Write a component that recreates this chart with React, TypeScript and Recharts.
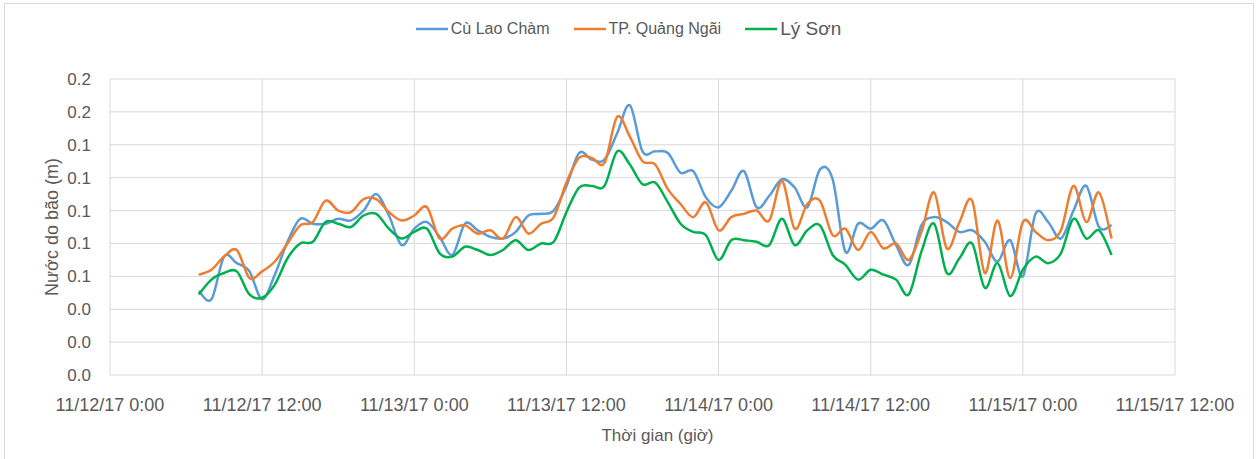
import React from 'react';
import { LineChart, Line, XAxis, YAxis, CartesianGrid, Legend } from 'recharts';

// hours since 11/12/17 0:00
const hours = [
  7, 8, 9, 10, 11, 12, 13, 14, 15, 16, 17, 18, 19, 20, 21, 22, 23, 24, 25, 26,
  27, 28, 29, 30, 31, 32, 33, 34, 35, 36, 37, 38, 39, 40, 41, 42, 43, 44, 45, 46,
  47, 48, 49, 50, 51, 52, 53, 54, 55, 56, 57, 58, 59, 60, 61, 62, 63, 64, 65, 66,
  67, 68, 69, 70, 71, 72, 73, 74, 75, 76, 77, 78, 79,
];

const cuLaoCham = [
  0.051, 0.046, 0.072, 0.068, 0.063, 0.046, 0.061, 0.081, 0.095, 0.092, 0.092, 0.095, 0.094, 0.1, 0.11, 0.097, 0.079, 0.089, 0.093, 0.084,
  0.073, 0.092, 0.088, 0.084, 0.083, 0.087, 0.097, 0.098, 0.1, 0.115, 0.135, 0.131, 0.131, 0.147, 0.164, 0.136, 0.136, 0.135, 0.123, 0.124,
  0.108, 0.102, 0.112, 0.124, 0.102, 0.109, 0.119, 0.114, 0.102, 0.125, 0.119, 0.075, 0.092, 0.089, 0.094, 0.079, 0.067, 0.091, 0.096, 0.093,
  0.087, 0.088, 0.081, 0.069, 0.082, 0.06, 0.098, 0.093, 0.083, 0.1, 0.115, 0.09, 0.091,
];

const quangNgai = [
  0.061, 0.064, 0.072, 0.076, 0.059, 0.063, 0.069, 0.08, 0.091, 0.093, 0.106, 0.1, 0.099, 0.107, 0.107, 0.099, 0.094, 0.097, 0.102, 0.083,
  0.089, 0.091, 0.086, 0.088, 0.083, 0.096, 0.086, 0.092, 0.096, 0.117, 0.132, 0.132, 0.129, 0.157, 0.145, 0.13, 0.128, 0.113, 0.104, 0.096,
  0.105, 0.088, 0.096, 0.098, 0.1, 0.094, 0.118, 0.089, 0.104, 0.106, 0.085, 0.089, 0.076, 0.087, 0.077, 0.08, 0.07, 0.087, 0.111, 0.077,
  0.093, 0.106, 0.062, 0.094, 0.059, 0.093, 0.087, 0.082, 0.088, 0.115, 0.093, 0.111, 0.083,
];

const lySon = [
  0.049, 0.058, 0.062, 0.063, 0.049, 0.047, 0.055, 0.071, 0.08, 0.081, 0.093, 0.092, 0.09, 0.097, 0.098, 0.089, 0.083, 0.087, 0.089, 0.074,
  0.072, 0.078, 0.076, 0.073, 0.076, 0.082, 0.076, 0.08, 0.081, 0.099, 0.114, 0.115, 0.115, 0.136, 0.128, 0.116, 0.117, 0.105, 0.092, 0.087,
  0.085, 0.07, 0.082, 0.082, 0.081, 0.079, 0.095, 0.079, 0.088, 0.091, 0.073, 0.067, 0.058, 0.064, 0.061, 0.058, 0.049, 0.075, 0.092, 0.062,
  0.071, 0.08, 0.053, 0.068, 0.048, 0.064, 0.072, 0.068, 0.074, 0.095, 0.083, 0.088, 0.073,
];

const xTicks = [0, 12, 24, 36, 48, 60, 72, 84];
const xTickLabels = [
  '11/12/17 0:00', '11/12/17 12:00', '11/13/17 0:00', '11/13/17 12:00',
  '11/14/17 0:00', '11/14/17 12:00', '11/15/17 0:00', '11/15/17 12:00',
];
const yTicks = [0, 0.02, 0.04, 0.06, 0.08, 0.1, 0.12, 0.14, 0.16, 0.18];

const series = [
  { key: 'cuLaoCham', name: 'Cù Lao Chàm', color: '#5B9BD5', legendSize: 16 },
  { key: 'quangNgai', name: 'TP. Quảng Ngãi', color: '#ED7D31', legendSize: 16 },
  { key: 'lySon', name: 'Lý Sơn', color: '#00B050', legendSize: 19 },
];

const data = hours.map((h, i) => ({
  h,
  cuLaoCham: cuLaoCham[i],
  quangNgai: quangNgai[i],
  lySon: lySon[i],
}));

const FONT = '"Liberation Sans", Arial, sans-serif';
const TEXT = '#595959';

// Excel-like smoothed line (cardinal spline, tension 0)
const excelSmooth = (context: any) => {
  let pts: number[][] = [];
  return {
    areaStart() {},
    areaEnd() {},
    lineStart() {
      pts = [];
    },
    point(x: number, y: number) {
      pts.push([+x, +y]);
    },
    lineEnd() {
      const n = pts.length;
      if (!n) return;
      context.moveTo(pts[0][0], pts[0][1]);
      for (let i = 0; i < n - 1; i++) {
        const p0 = pts[i - 1] || pts[i];
        const p1 = pts[i];
        const p2 = pts[i + 1];
        const p3 = pts[i + 2] || p2;
        context.bezierCurveTo(
          p1[0] + (p2[0] - p0[0]) / 6,
          p1[1] + (p2[1] - p0[1]) / 6,
          p2[0] - (p3[0] - p1[0]) / 6,
          p2[1] - (p3[1] - p1[1]) / 6,
          p2[0],
          p2[1]
        );
      }
    },
  };
};

// keep the series order (recharts sorts the payload by name)
const renderLegend = (props: any) => {
  const { payload = [] } = props;
  const items = series
    .map(s => ({ s, p: payload.find((p: any) => p.value === s.name) }))
    .filter(x => x.p);
  return (
    <div style={{ height: 79, paddingTop: 18, boxSizing: 'border-box', display: 'flex', justifyContent: 'center', gap: 24, fontFamily: FONT, color: TEXT }}>
      {items.map(({ s, p }) => (
        <div key={s.key} style={{ display: 'flex', alignItems: 'center', height: 22 }}>
          <svg width={32} height={4} style={{ marginRight: 3 }}>
            <line x1={0} y1={2} x2={32} y2={2} stroke={p.color} strokeWidth={2.5} />
          </svg>
          <span style={{ fontSize: s.legendSize }}>{s.name}</span>
        </div>
      ))}
    </div>
  );
};

const YTitle = (props: any) => {
  const { viewBox } = props;
  const cx = 52;
  const cy = viewBox.y + viewBox.height / 2;
  return (
    <text x={cx} y={cy} transform={`rotate(-90, ${cx}, ${cy})`} textAnchor="middle" dominantBaseline="central" fill={TEXT} fontSize={18} fontFamily={FONT}>
      Nước do bão (m)
    </text>
  );
};

const XTitle = (props: any) => {
  const { viewBox } = props;
  const cx = viewBox.x + viewBox.width / 2 + 15;
  return (
    <text x={cx} y={435} textAnchor="middle" dominantBaseline="central" fill={TEXT} fontSize={17} fontFamily={FONT}>
      Thời gian (giờ)
    </text>
  );
};

export default function App() {
  return (
    <div style={{ position: 'relative', width: 1257, height: 459, overflow: 'hidden', background: '#fff' }}>
      <style>{`body{margin:0}`}</style>
      <div style={{ position: 'absolute', left: 4, top: 3, width: 1248, height: 480, border: '1px solid #d9d9d9', pointerEvents: 'none' }} />
      <LineChart width={1257} height={459} data={data} margin={{ top: 0, right: 82, bottom: 0, left: 40 }} style={{ fontFamily: FONT }}>
        <CartesianGrid stroke="#d9d9d9" strokeWidth={1} />
        <XAxis
          dataKey="h"
          type="number"
          domain={[0, 84]}
          ticks={xTicks}
          interval={0}
          tickFormatter={(v: number) => xTickLabels[xTicks.indexOf(v)]}
          axisLine={false}
          tickLine={false}
          tickSize={0}
          tickMargin={23}
          height={84}
          tick={{ fill: TEXT, fontSize: 18, fontFamily: FONT }}
          label={{ content: XTitle }}
        />
        <YAxis
          type="number"
          domain={[0, 0.18]}
          ticks={yTicks}
          interval={0}
          tickFormatter={(v: number) => v.toFixed(1)}
          axisLine={false}
          tickLine={false}
          tickSize={6}
          tickMargin={13}
          width={70}
          tick={{ fill: TEXT, fontSize: 17, fontFamily: FONT }}
          label={{ content: YTitle }}
        />
        <Legend verticalAlign="top" content={renderLegend} wrapperStyle={{ left: 0, width: 1257, top: 0 }} />
        {series.map(s => (
          <Line
            key={s.key}
            dataKey={s.key}
            name={s.name}
            stroke={s.color}
            strokeWidth={2.5}
            type={excelSmooth as any}
            dot={false}
            activeDot={false}
            isAnimationActive={false}
          />
        ))}
      </LineChart>
    </div>
  );
}
